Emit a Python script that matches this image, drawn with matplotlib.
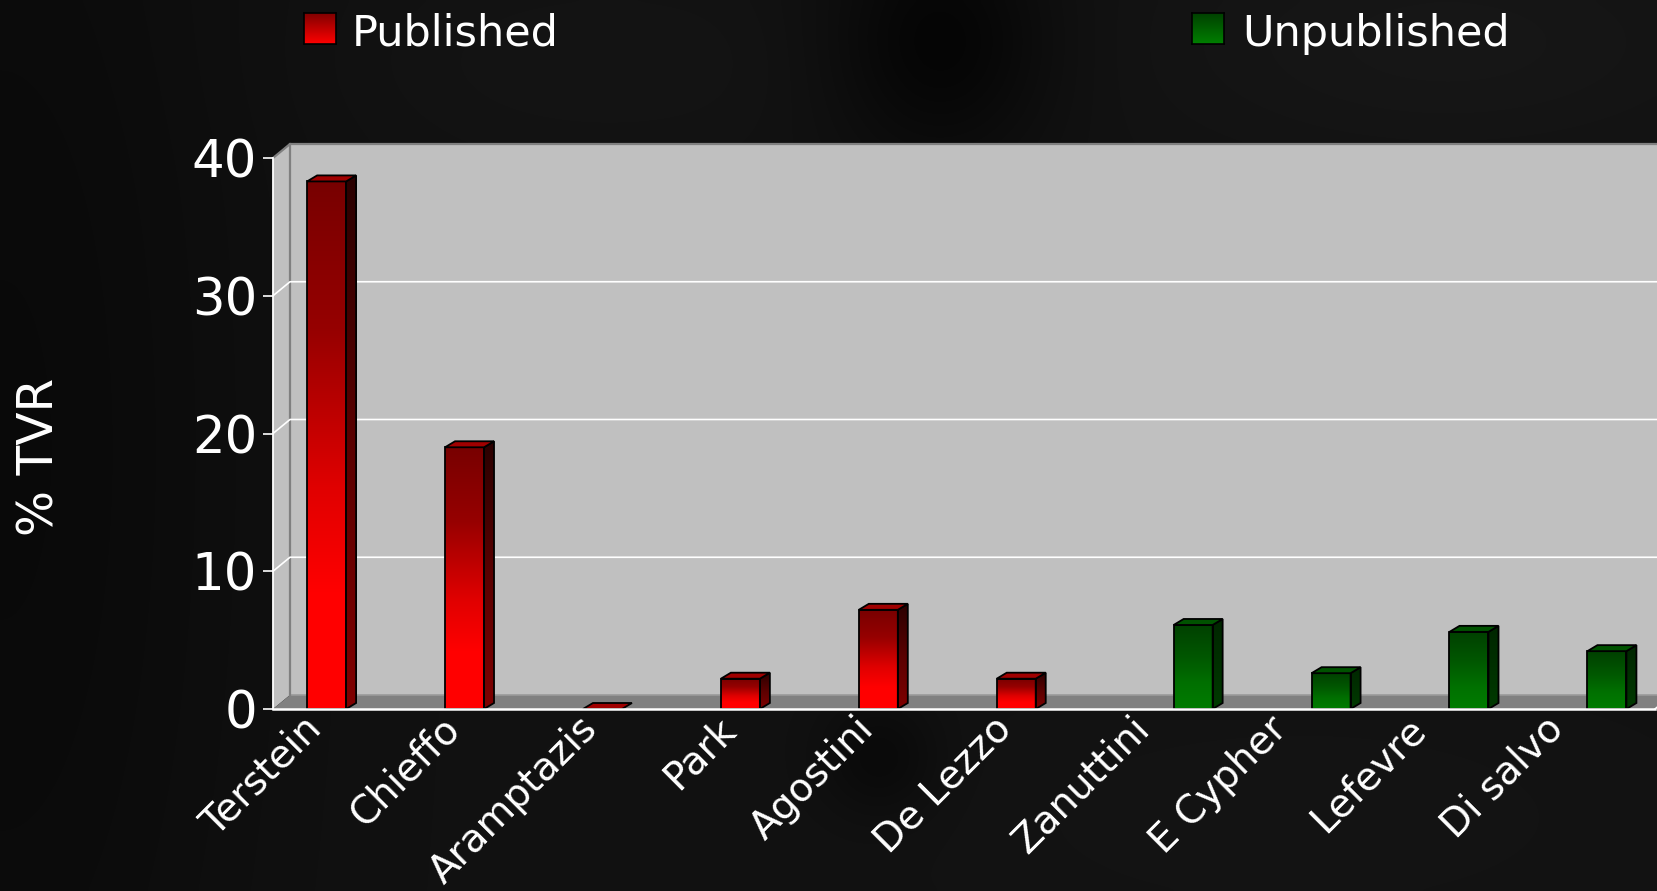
import numpy as np
import matplotlib
matplotlib.use("Agg")
import matplotlib.pyplot as plt
from matplotlib.colors import LinearSegmentedColormap
from matplotlib.patches import Polygon, Rectangle

studies = ["Terstein", "Chieffo", "Aramptazis", "Park", "Agostini", "De Lezzo",
           "Zanuttini", "E Cypher", "Lefevre", "Di salvo"]
published = [38.3, 19.0, 0.0, 2.2, 7.2, 2.2, None, None, None, None]
unpublished = [None, None, None, None, None, None, 6.1, 2.6, 5.6, 4.2]
yticks = [0, 10, 20, 30, 40]
series_names = ["Published", "Unpublished"]

plt.rcParams["font.family"] = ["DejaVu Sans"]

fig = plt.figure(figsize=(16.57, 8.91), dpi=100)

# dark smoky backdrop
bg = fig.add_axes([0, 0, 1, 1], zorder=-10)
gx, gy = np.meshgrid(np.linspace(0, 1657, 332), np.linspace(0, 891, 179))
def blob(cx, cy, rx, ry, amp):
    return amp * np.exp(-((gx - cx) / rx) ** 2 - ((gy - cy) / ry) ** 2)
field = (0.068
         - blob(0, 450, 260, 900, 0.03)
         - blob(940, 40, 110, 120, 0.05)
         + blob(1450, 40, 300, 120, 0.02)
         + blob(600, 60, 250, 90, 0.01)
         - blob(880, 760, 60, 60, 0.03)
         + blob(1300, 820, 350, 120, 0.01))
bg.imshow(np.clip(field, 0, 1), cmap="gray", vmin=0, vmax=1, extent=(0, 1657, 891, 0),
          aspect="auto", interpolation="bicubic")
bg.set_axis_off()

# front plane of the chart
ax = fig.add_axes([273 / 1657, (891 - 709) / 891, (1655 - 273) / 1657, (709 - 158) / 891])
x0, x1 = -0.53, 9.49
ax.set_xlim(x0, x1)
ax.set_ylim(0, 40)
ax.set_autoscale_on(False)
ax.patch.set_alpha(0)

inv = ax.transData.inverted()
def px(dx, dy):
    a = inv.transform((0, 0))
    b = inv.transform((dx, dy))
    return b[0] - a[0], b[1] - a[1]

wdx, wdy = px(17, 14)   # wall depth
bdx, bdy = px(10, 6)    # bar depth
bw = px(39, 0)[0]       # bar width
top = yticks[-1]

wall = "#c0c0c0"
ax.add_patch(Polygon([(x0 + wdx, wdy), (x1 + 2 * wdx, wdy), (x1 + 2 * wdx, top + wdy), (x0 + wdx, top + wdy)],
                     closed=True, fc=wall, ec="none", zorder=0.2, clip_on=False))
ax.add_patch(Polygon([(x0, 0), (x0 + wdx, wdy), (x0 + wdx, top + wdy), (x0, top)],
                     closed=True, fc=wall, ec="none", zorder=0.2, clip_on=False))
ax.add_patch(Polygon([(x0, 0), (x1, 0), (x1 + wdx, wdy), (x0 + wdx, wdy)],
                     closed=True, fc="#808080", ec="none", zorder=0.3, clip_on=False))
ax.plot([x0 + wdx, x1 + 2 * wdx], [wdy, wdy], color="#9a9a9a", lw=1.2, zorder=0.35, clip_on=False)
ax.plot([x0, x0 + wdx, x1 + 2 * wdx], [top, top + wdy, top + wdy], color="#808080", lw=1.6,
        zorder=0.4, clip_on=False)
ax.plot([x0 + wdx, x0 + wdx], [wdy, top + wdy], color="#808080", lw=1.6, zorder=0.4, clip_on=False)
for y in yticks[1:-1]:
    ax.plot([x0, x0 + wdx, x1 + 2 * wdx], [y, y + wdy, y + wdy], color="white", lw=1.2,
            zorder=0.5, clip_on=False)
ax.plot([x1, x1 + wdx], [0, wdy], color="white", lw=1.2, zorder=0.5, clip_on=False)

def ramp(name, stops):
    return LinearSegmentedColormap.from_list(name, stops)

styles = {
    "Published": dict(
        front=ramp("rf", [(0, "#ff0000"), (0.22, "#ff0000"), (0.42, "#e00000"), (0.72, "#960000"), (1, "#780000")]),
        side=ramp("rs", [(0, "#800000"), (0.5, "#5a0000"), (1, "#2a0000")]),
        top="#a00000", swatch=ramp("rw", ["#ff0000", "#800000"])),
    "Unpublished": dict(
        front=ramp("gf", [(0, "#007c00"), (0.3, "#007000"), (0.6, "#005800"), (1, "#004000")]),
        side=ramp("gs", [(0, "#003a00"), (1, "#002600")]),
        top="#005200", swatch=ramp("gw", ["#008000", "#004000"])),
}

grad = np.linspace(0, 1, 256)[:, None]

def draw_bar(xl, v, st, z):
    if v > 0:
        ax.imshow(grad, extent=(xl, xl + bw, 0, v), origin="lower", cmap=st["front"],
                  aspect="auto", interpolation="bilinear", zorder=z)
        side = Polygon([(xl + bw, 0), (xl + bw + bdx, bdy), (xl + bw + bdx, v + bdy), (xl + bw, v)],
                       closed=True, fc="none", ec="none", zorder=z)
        ax.add_patch(side)
        im = ax.imshow(grad, extent=(xl + bw, xl + bw + bdx, 0, v + bdy), origin="lower",
                       cmap=st["side"], aspect="auto", interpolation="bilinear", zorder=z)
        im.set_clip_path(side)
        ax.add_patch(Polygon(side.get_xy(), closed=True, fc="none", ec="black", lw=1.3, zorder=z + 0.1))
        ax.add_patch(Rectangle((xl, 0), bw, v, fc="none", ec="black", lw=1.3, zorder=z + 0.1))
    ax.add_patch(Polygon([(xl, v), (xl + bw, v), (xl + bw + bdx, v + bdy), (xl + bdx, v + bdy)],
                         closed=True, fc=st["top"], ec="black", lw=1.3, zorder=z + 0.1))

for i in range(len(studies)):
    for j, (name, vals) in enumerate(zip(series_names, [published, unpublished])):
        v = vals[i]
        if v is None:
            continue
        xl = i - bw + j * bw
        draw_bar(xl, v, styles[name], 2 + i * 0.2)

# axes, ticks and labels
for s in ["top", "right"]:
    ax.spines[s].set_visible(False)
ax.spines["left"].set_color("white")
ax.spines["left"].set_linewidth(1.3)
ax.spines["bottom"].set_color("white")
ax.spines["bottom"].set_linewidth(1.8)
ax.spines["left"].set_zorder(5)
ax.spines["bottom"].set_zorder(5)

ax.set_yticks(yticks)
ax.tick_params(axis="y", colors="white", labelsize=37, length=7.5, width=1.2, pad=4)
ax.set_xticks(np.arange(len(studies)) - 0.22, studies)
ax.tick_params(axis="x", length=0, pad=10, labelsize=28, labelcolor="white")
for lbl in ax.get_xticklabels():
    lbl.set(rotation=45, ha="right", va="center", rotation_mode="anchor")

fig.text(39 / 1657, 1 - 457 / 891, "% TVR", rotation=90, ha="center", va="center",
         fontsize=35, color="white")

# legend along the top
for name, sx, tx in [("Published", 304, 352), ("Unpublished", 1192, 1242)]:
    sw = fig.add_axes([sx / 1657, 1 - 44 / 891, 32 / 1657, 31 / 891])
    sw.imshow(grad, origin="lower", cmap=styles[name]["swatch"], aspect="auto", extent=(0, 1, 0, 1))
    sw.set_xticks([])
    sw.set_yticks([])
    for sp in sw.spines.values():
        sp.set_color("black")
        sp.set_linewidth(1.2)
    fig.text(tx / 1657, 1 - 46 / 891, name, ha="left", va="baseline", fontsize=31, color="white")

fig.savefig("out.png", dpi=100)
